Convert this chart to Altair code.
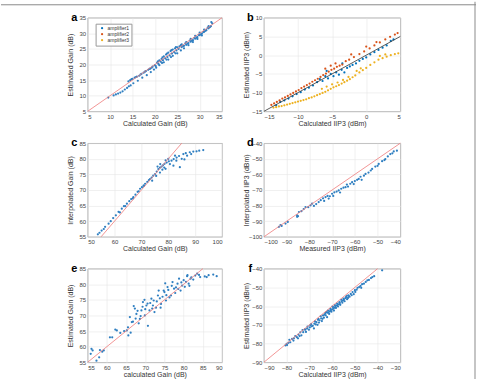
import altair as alt
import pandas as pd

FONT = "Liberation Sans"
BLUE = "#2f7fc1"
RED = "#ef7b7b"
AMP_COLORS = ["#0072BD", "#D95319", "#EDB120"]
AMP_NAMES = ["amplifier1", "amplifier2", "amplifier3"]

# ---------------- panel a ----------------
A_PTS = [(9.6,9.4),(10.8,10.1),(11.3,10.4),(11.8,10.7),(12.3,11.0),(12.8,11.4),(13.3,12.0),(13.8,12.5),(14.2,13.0),(14.6,13.3),
 (14.1,14.6),(14.5,15.0),(15.0,15.4),(15.5,15.8),(16.0,16.1),(16.5,16.4),(17.0,17.0),(17.5,17.4),(18.0,17.9),(18.5,18.3),(19.0,18.7),(19.5,19.3),(20.0,19.8),
 (15.2,14.0),(16.2,14.8),(17.2,15.8),(18.2,16.6),(19.1,17.6),(19.8,18.4),(20.3,19.0),
 (20.5,20.6),(21.0,21.3),(21.5,21.8),(22.0,22.6),(22.5,23.2),(23.0,23.8),(23.5,24.3),(24.0,24.8),(24.5,25.2),(25.0,25.5),(25.5,25.8),
 (20.2,19.5),(20.8,20.2),(21.3,20.9),(21.8,21.4),(22.3,22.0),(22.8,22.4),(23.3,22.9),(23.8,23.5),(24.3,24.0),(24.8,24.5),
 (21.0,19.8),(22.0,20.7),(23.0,21.6),(24.0,22.8),(25.0,23.6),(25.8,24.5),
 (26.0,25.6),(26.5,26.0),(27.0,26.3),(27.5,26.9),(28.0,27.3),(28.5,27.8),(29.0,28.3),(29.5,28.8),(30.0,29.4),(30.5,29.9),(31.0,30.5),(31.5,31.0),(32.0,31.6),(32.5,32.3),(32.8,33.2),(32.6,33.6),
 (26.0,26.5),(27.0,27.2),(28.0,28.2),(29.0,29.2),(30.0,30.2),(31.0,31.2),(32.0,32.3),
 (26.5,25.2),(27.5,26.2),(28.5,27.2),(29.5,28.2),(30.5,29.3),
 (14.8,15.3),(15.8,16.0),(16.8,16.8),(17.8,17.7),(18.8,18.6),(19.3,19.0),(20.7,21.0),(21.7,22.3),(22.7,23.5),(23.7,24.6),(24.7,25.6),
 (25.3,25.0),(26.3,25.9),(27.3,26.7),(28.3,27.6),(29.3,28.6),(30.3,29.7),(31.3,30.8),(32.3,32.0),(31.8,31.8),(30.8,30.4),(29.8,29.5),
 (28.8,28.5),(27.8,27.7),(26.8,26.8),(25.8,26.2),(22.6,21.6),(21.6,20.5),(23.6,22.4),(24.6,23.6)]
A_REF = [5, 35]
A_XTICKS = [5, 10, 15, 20, 25, 30, 35]
A_YTICKS = [5, 10, 15, 20, 25, 30, 35]

# ---------------- panel b ----------------
B_AMP1 = [(-13.2,-13.4),(-12.6,-12.5),(-12.0,-12.1),(-11.4,-11.6),(-10.8,-11.0),(-10.2,-10.4),(-9.6,-9.9),(-9.0,-9.2),(-8.4,-8.7),(-7.8,-8.1),
 (-7.2,-7.2),(-6.8,-6.4),(-6.4,-6.9),(-6.0,-5.6),(-5.6,-6.2),(-5.2,-5.0),(-4.8,-5.6),(-4.4,-4.6),(-4.0,-5.2),(-3.6,-3.9),(-3.2,-4.6),
 (-2.8,-3.4),(-2.4,-3.0),(-2.0,-2.6),(-1.5,-2.2),(-1.0,-1.5),(-0.5,-1.0),(0.0,-0.6),(0.6,0.2),(1.2,0.8),(1.8,1.4),(2.4,2.0),(3.0,2.6),
 (3.6,3.8),(4.0,4.2),(-3.5,-2.2),(-5.8,-4.2)]
B_AMP2 = [(-13.9,-13.3),(-13.5,-12.9),(-13.1,-12.5),(-12.7,-12.1),(-12.3,-11.6),(-11.9,-11.3),(-11.5,-10.9),(-11.1,-10.5),(-10.7,-10.1),
 (-10.3,-9.7),(-9.9,-9.3),(-9.5,-8.8),(-9.1,-8.4),(-8.7,-8.0),(-8.3,-7.6),(-7.9,-7.1),(-7.5,-6.7),(-7.1,-6.3),(-6.7,-5.8),(-6.3,-5.3),
 (-5.9,-4.9),(-5.5,-4.4),(-5.1,-3.9),(-4.7,-3.6),(-4.3,-3.1),(-3.9,-2.8),(-3.5,-2.5),(-6.0,-3.6),(-5.2,-2.8),(-4.5,-2.2),(-3.0,-1.6),
 (-2.5,-1.2),(-1.8,-0.5),(-1.0,0.3),(-0.3,1.0),(0.5,1.8),(1.2,2.6),(2.0,3.4),(2.8,4.2),(3.5,4.9),(4.2,5.5),(4.6,5.9),(0.0,2.3),(1.5,3.5),(-2.2,0.2)]
B_AMP3 = [(-13.6,-14.0),(-13.2,-13.9),(-12.8,-13.7),(-12.4,-13.6),(-12.0,-13.4),(-11.6,-13.2),(-11.2,-13.0),(-10.8,-12.8),(-10.4,-12.6),
 (-10.0,-12.4),(-9.6,-12.2),(-9.2,-12.0),(-8.8,-11.8),(-8.4,-11.5),(-8.0,-11.3),(-7.6,-11.0),(-7.2,-10.7),(-6.8,-10.4),(-6.4,-10.1),
 (-6.0,-9.8),(-5.6,-9.4),(-5.2,-9.0),(-4.8,-8.6),(-4.4,-8.3),(-4.0,-8.0),(-3.6,-7.6),(-3.2,-7.2),(-2.8,-6.8),(-2.4,-6.4),(-2.0,-5.9),
 (-6.5,-9.0),(-5.8,-8.4),(-5.0,-7.8),(-4.2,-7.3),(-3.4,-6.6),(-2.6,-5.8),(-1.6,-5.4),(-1.0,-4.6),(-0.5,-4.0),(0.0,-3.4),(-1.4,-4.2),
 (-0.8,-3.5),(0.6,-2.6),(1.2,-1.9),(1.8,-1.2),(2.4,-0.8),(3.0,-0.4),(3.6,0.0),(4.2,0.3),(4.7,0.5),(2.0,-0.2),(2.8,0.2)]
B_REF = [-15, 5]
B_XTICKS = [-15, -10, -5, 0, 5]
B_YTICKS = [-15, -10, -5, 0, 5, 10]

# ---------------- panel c ----------------
C_PTS = [(53.8,55.8),(54.4,56.3),(55.2,57.0),(56.5,58.2),(57.8,59.2),(59.5,61.0),(61.5,63.0),(62.7,64.0),(63.5,64.8),(64.6,65.6),
 (65.5,66.4),(66.2,67.1),(67.0,67.7),(67.8,68.5),(68.6,69.4),(69.5,70.4),(70.2,70.9),(70.8,71.4),(71.4,72.0),(72.2,72.6),(73.2,73.5),
 (73.8,74.0),(74.4,74.6),(75.1,75.1),(75.7,75.9),(76.3,76.7),(76.9,77.2),(77.5,77.5),(78.0,77.9),(78.6,78.4),(79.4,78.8),(80.2,79.2),
 (81.2,79.4),(82.0,79.9),(83.1,80.4),(84.0,80.9),(85.6,81.5),(86.5,81.8),(88.0,82.1),(89.3,82.3),(90.5,82.4),(91.5,82.6),(93.0,82.8),
 (74.0,73.0),(75.5,74.5),(76.9,75.6),(77.8,76.5),(78.5,77.2),(79.0,76.8),(80.6,78.3),(81.9,77.8),(83.0,79.4),(84.3,77.3),(85.0,80.0),
 (86.0,79.8),(87.0,81.0),(88.5,81.5),(82.5,81.0),(80.0,80.0),(79.0,79.5),(77.0,78.3),(76.0,77.5),(72.8,73.2),(71.0,71.4),(69.0,69.6),
 (66.8,67.3),(64.0,64.8),(60.5,61.9),(58.6,60.0),(56.0,57.5),(62.0,62.8)]
C_REF = [55, 85]
C_XTICKS = [50, 60, 70, 80, 90, 100]
C_YTICKS = [55, 60, 65, 70, 75, 80, 85]

# ---------------- panel d ----------------
D_PTS = [(-93.4,-93.6),(-92.7,-92.5),(-92.2,-93.0),(-90.5,-91.5),(-89.5,-90.5),(-85.4,-87.2),(-85.4,-86.2),(-85.0,-86.8),(-84.6,-84.1),
 (-83.5,-83.6),(-82.5,-82.2),(-81.7,-80.9),(-80.5,-81.0),(-79.5,-79.8),(-78.8,-78.8),(-78.0,-80.2),(-77.0,-79.0),(-75.9,-77.7),(-75.0,-76.5),
 (-74.0,-75.3),(-73.5,-77.0),(-72.9,-74.5),(-72.0,-73.8),(-71.5,-75.5),(-71.0,-74.0),(-70.0,-72.4),(-69.5,-73.8),(-69.0,-71.5),(-68.0,-71.0),
 (-67.1,-70.3),(-66.5,-71.6),(-66.0,-69.2),(-65.0,-68.5),(-64.1,-68.2),(-63.5,-66.5),(-63.0,-67.8),(-62.0,-66.0),(-61.2,-65.0),(-60.5,-66.2),
 (-60.0,-64.3),(-59.0,-63.5),(-58.3,-62.9),(-57.5,-61.5),(-57.0,-63.5),(-56.0,-60.8),(-55.3,-59.7),(-54.0,-58.8),(-53.0,-57.5),(-52.4,-56.5),
 (-51.0,-55.0),(-50.0,-54.5),(-49.5,-53.3),(-48.0,-51.5),(-47.0,-50.8),(-46.6,-50.2),(-45.5,-48.5),(-44.4,-47.0),(-43.5,-46.5),(-42.9,-45.3),(-41.5,-44.8)]
D_REF = [-100, -40]
D_XTICKS = [-100, -90, -80, -70, -60, -50, -40]
D_YTICKS = [-100, -90, -80, -70, -60, -50, -40]

# ---------------- panel e ----------------
E_PTS = [(55.8,57.7),(56.3,58.8),(57.3,55.5),(58.0,56.6),(58.8,58.4),(59.2,58.8),(61.4,63.0),(62.6,65.2),(63.5,64.4),(65.2,65.2),(65.6,63.6),
 (66.0,69.5),(66.5,67.9),(67.3,72.2),(67.7,70.5),(68.6,68.9),(69.0,71.6),(69.4,74.3),(69.9,70.0),(70.3,73.2),(70.7,66.7),(71.1,71.6),
 (71.6,75.4),(72.0,73.2),(72.4,71.1),(73.3,76.4),(74.1,73.7),(75.0,77.5),(75.4,74.8),(75.8,79.1),(76.7,76.4),(77.1,80.7),(77.5,78.6),
 (78.4,80.2),(78.8,81.8),(79.2,78.0),(79.6,79.6),(80.0,81.3),(80.9,82.6),(81.3,80.2),(81.8,81.8),(83.5,83.4),(84.3,82.3),(86.0,82.3),
 (87.7,83.1),(88.6,82.6),(56.0,59.3),(58.2,58.9),(60.8,63.0),(62.2,65.5),(64.5,65.0),(65.5,66.2),(66.8,68.0),(67.5,69.0),(68.0,71.5),
 (68.3,67.5),(68.8,69.8),(69.3,72.8),(70.0,72.0),(70.6,73.8),(71.3,74.0),(72.2,74.8),(72.8,72.5),(73.0,74.5),(73.8,75.5),(74.5,76.0),
 (74.8,78.0),(75.5,76.5),(76.0,78.2),(76.3,75.8),(76.9,79.5),(77.8,77.2),(78.0,79.0),(78.6,78.5),(79.4,80.6),(80.3,79.2),(80.6,80.8),
 (81.0,82.9),(81.5,79.5),(82.0,82.2),(82.5,81.5),(83.0,82.8),(84.0,83.0),(85.5,82.5),(86.5,82.9),(74.0,72.5),(71.8,72.2),(66.2,64.5),
 (67.0,73.0),(69.8,75.0),(75.2,80.3),(73.5,78.0)]
E_REF = [55, 85]
E_XTICKS = [55, 60, 65, 70, 75, 80, 85, 90]
E_YTICKS = [55, 60, 65, 70, 75, 80, 85]

# ---------------- panel f ----------------
F_PTS = [(-80.5,-81.0),(-80.0,-80.2),(-79.2,-79.6),(-78.4,-79.3),(-77.6,-77.5),(-77.0,-78.4),(-76.2,-76.0),(-75.5,-76.6),(-74.8,-75.2),
 (-74.0,-74.0),(-73.5,-75.6),(-72.7,-73.9),(-72.0,-72.4),(-71.5,-73.8),(-70.8,-71.0),(-70.2,-72.6),(-69.8,-71.3),(-69.2,-69.6),(-68.5,-70.5),
 (-68.0,-71.9),(-67.5,-68.2),(-66.9,-68.6),(-66.4,-70.0),(-66.0,-66.8),(-65.5,-67.6),(-65.0,-65.4),(-64.5,-68.0),(-64.0,-65.0),(-63.6,-66.2),
 (-63.0,-63.8),(-62.5,-63.2),(-62.2,-65.9),(-61.8,-62.4),(-61.3,-64.2),(-60.8,-61.5),(-60.3,-63.0),(-59.9,-60.2),(-59.6,-60.5),(-59.2,-62.4),
 (-58.8,-59.4),(-58.3,-61.0),(-57.8,-58.6),(-57.4,-60.2),(-56.8,-57.9),(-56.4,-59.3),(-56.0,-56.6),(-55.5,-58.2),(-55.0,-56.0),(-54.5,-57.4),
 (-53.9,-55.2),(-53.4,-56.3),(-52.9,-54.2),(-52.3,-55.0),(-51.8,-53.5),(-51.0,-52.5),(-50.5,-53.6),(-50.0,-51.5),(-49.2,-51.2),(-48.8,-50.2),
 (-48.1,-49.8),(-47.5,-49.2),(-46.8,-48.3),(-46.0,-48.0),(-45.2,-47.1),(-44.5,-46.2),(-43.8,-46.0),(-42.9,-45.0),(-42.3,-44.5),(-41.5,-44.0),
 (-38.0,-40.9),(-69.0,-70.8),(-67.8,-69.4),(-66.2,-67.3),(-64.8,-66.5),(-63.3,-64.6),(-62.0,-63.5),(-61.0,-62.8),(-60.0,-61.8),(-58.9,-60.8),
 (-57.9,-59.7),(-57.0,-59.0),(-55.8,-57.4),(-54.8,-56.7),(-53.6,-54.6),(-52.6,-54.6),(-75.0,-77.2),(-73.0,-72.8),(-71.0,-72.0),(-78.8,-78.0),(-79.8,-80.8),
 (-76.8,-77.2),(-74.3,-76.0),(-71.8,-72.6),(-69.6,-70.2),(-67.2,-69.8),(-65.8,-68.8),(-64.2,-66.8),(-62.8,-64.9),(-61.6,-63.4),(-60.6,-62.3),
 (-59.4,-61.4),(-58.6,-60.0),(-57.6,-59.4),(-56.6,-58.4),(-55.2,-57.0),(-54.2,-55.8),(-53.0,-55.6),(-51.4,-54.2),(-49.8,-52.4),(-47.2,-50.2)]
F_REF = [-90, -40]
F_XTICKS = [-90, -80, -70, -60, -50, -40, -30]
F_YTICKS = [-90, -80, -70, -60, -50, -40]


def axes(xdom, ydom, xticks, yticks, xtitle, ytitle, h):
    xs = alt.Scale(domain=xdom, nice=False, zero=False)
    ys = alt.Scale(domain=ydom, nice=False, zero=False)
    xax = alt.Axis(values=xticks, title=xtitle, titleY=12, titleBaseline="middle")
    yax = alt.Axis(values=yticks, title=ytitle, titleX=-17, titleY=h / 2,
                   titleAngle=270, titleBaseline="middle", titleAlign="center")
    return xs, ys, xax, yax


def letter_layer(letter):
    return alt.Chart(pd.DataFrame({"t": [letter]})).mark_text(
        font=FONT, fontWeight="bold", fontSize=11, align="center", baseline="alphabetic", color="black"
    ).encode(x=alt.value(-13.5), y=alt.value(3), text="t:N")


def panel(pts, ref, xdom, ydom, xticks, yticks, xtitle, ytitle, letter, w, h):
    xs, ys, xax, yax = axes(xdom, ydom, xticks, yticks, xtitle, ytitle, h)
    df = pd.DataFrame(pts, columns=["x", "y"])
    scatter = alt.Chart(df).mark_circle(size=5, color=BLUE, opacity=1).encode(
        x=alt.X("x:Q", scale=xs, axis=xax), y=alt.Y("y:Q", scale=ys, axis=yax))
    line = alt.Chart(pd.DataFrame({"x": ref, "y": ref})).mark_line(color=RED, strokeWidth=0.8).encode(
        x=alt.X("x:Q", scale=xs, axis=xax), y=alt.Y("y:Q", scale=ys, axis=yax))
    return alt.layer(scatter, line, letter_layer(letter)).properties(width=w, height=h)


W_L, W_R, H = 135, 137, 94

pa = panel(A_PTS, A_REF, [5, 35], [5, 35], A_XTICKS, A_YTICKS,
           "Calculated Gain (dB)", "Estimated Gain (dB)", "a", W_L, H)

# panel b
xs, ys, xax, yax = axes([-15, 5], [-15, 10], B_XTICKS, B_YTICKS,
                        "Calculated IIP3 (dBm)", "Estimated IIP3 (dBm)", H)
rows = []
for name, pts in zip(AMP_NAMES, [B_AMP1, B_AMP2, B_AMP3]):
    for x, y in pts:
        rows.append({"x": x, "y": y, "amp": name})
bdf = pd.DataFrame(rows)
b_scatter = alt.Chart(bdf).mark_circle(size=5, opacity=1).encode(
    x=alt.X("x:Q", scale=xs, axis=xax), y=alt.Y("y:Q", scale=ys, axis=yax),
    color=alt.Color("amp:N", scale=alt.Scale(domain=AMP_NAMES, range=AMP_COLORS),
                    legend=alt.Legend(title=None, orient="none", legendX=8, legendY=6,
                                      strokeColor="#999", fillColor="white", padding=2,
                                      labelFontSize=5, symbolSize=5, rowPadding=0,
                                      labelFont=FONT, symbolType="circle", labelOffset=3,
                                      symbolOffset=2)))
b_line = alt.Chart(pd.DataFrame({"x": B_REF, "y": B_REF})).mark_line(color="#333333", strokeWidth=0.8).encode(
    x=alt.X("x:Q", scale=xs, axis=xax), y=alt.Y("y:Q", scale=ys, axis=yax))
frame_df = pd.DataFrame({"k": [0]})
top_rule = alt.Chart(frame_df).mark_rule(color="#8a8a8a", strokeWidth=1).encode(
    x=alt.value(-264), x2=alt.value(213), y=alt.value(-13))
right_rule = alt.Chart(frame_df).mark_rule(color="#8a8a8a", strokeWidth=1).encode(
    x=alt.value(212), y=alt.value(-16), y2=alt.value(363))
pb = alt.layer(b_scatter, b_line, letter_layer("b"), top_rule, right_rule).properties(width=W_R, height=H)

pc = panel(C_PTS, C_REF, [50, 100], [55, 85], C_XTICKS, C_YTICKS,
           "Calculated Gain (dB)", "Interpolated Gain (dB)", "c", W_L, H)
pd_ = panel(D_PTS, D_REF, [-100, -40], [-100, -40], D_XTICKS, D_YTICKS,
            "Measured IIP3 (dBm)", "Interpolated IIP3 (dBm)", "d", W_R, H)
pe = panel(E_PTS, E_REF, [55, 90], [55, 85], E_XTICKS, E_YTICKS,
           "calculated Gain (dB)", "Estimated Gain (dB)", "e", W_L, H)
pf = panel(F_PTS, F_REF, [-90, -30], [-90, -40], F_XTICKS, F_YTICKS,
           "Calculated IIP3 (dBm)", "Estimated IIP3 (dBm)", "f", W_R, H)

chart = alt.concat(pa, pb, pc, pd_, pe, pf, columns=2, bounds="flush",
                   spacing={"row": 32, "column": 42}).properties(
    padding=0,
    background="white",
).configure_view(
    stroke="#8c8c8c", strokeWidth=0.8
).configure_axis(
    labelFont=FONT, titleFont=FONT, labelFontSize=6, titleFontSize=7,
    labelColor="#444444", titleColor="#333333", titleFontWeight="normal",
    grid=True, gridColor="#e6e6e6", gridWidth=0.6,
    domain=False, ticks=False, labelPadding=2,
).configure_legend(labelColor="#333333")

chart.save("out.html", embed_options={"renderer": "svg", "actions": False})
